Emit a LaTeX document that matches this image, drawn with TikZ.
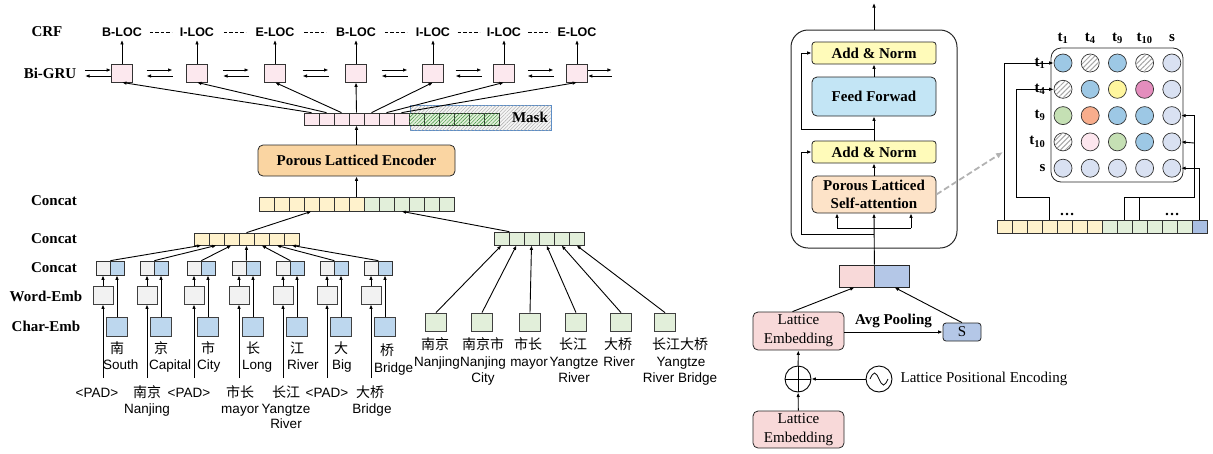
\documentclass[tikz,border=0pt]{standalone}
\usepackage{fontspec}
\setmainfont{Liberation Serif}
\newfontfamily\arialfont{Liberation Sans}
\newfontfamily\cjk{Noto Sans CJK SC}
\usetikzlibrary{calc,positioning,patterns.meta,arrows.meta}
\definecolor{pinkc}{HTML}{FCE8EE}
\definecolor{yelc}{HTML}{FFF2CC}
\definecolor{grnc}{HTML}{E2EFDA}
\definecolor{grayc}{HTML}{F2F2F2}
\definecolor{bluec}{HTML}{BDD7EE}
\definecolor{encc}{HTML}{FAD5A2}
\definecolor{anc}{HTML}{FFFBBA}
\definecolor{ffc}{HTML}{C3E5F5}
\definecolor{plac}{HTML}{FDE3C8}
\definecolor{lec}{HTML}{F8D9D9}
\definecolor{sc}{HTML}{B4C7E7}
\definecolor{seqblue}{HTML}{A9BFE3}
\definecolor{maskblue}{HTML}{5B8DC7}
\definecolor{mblu}{HTML}{9DC8E5}
\definecolor{myel}{HTML}{FFF69E}
\definecolor{mmag}{HTML}{E48DBD}
\definecolor{mgrn}{HTML}{C5E0B4}
\definecolor{msal}{HTML}{F8AD8C}
\definecolor{mpnk}{HTML}{FDE6EE}
\definecolor{mlav}{HTML}{D9E1F2}
\definecolor{mhat}{HTML}{FFFFFF}

\begin{document}
\begin{tikzpicture}[x=1pt, y=-1pt,
    arr/.style={-{Latex[length=4.5pt,width=3.6pt]}, line width=0.9pt},
    lab/.style={font=\bfseries\fontsize{15}{17}\selectfont},
    tag/.style={font=\arialfont\bfseries\fontsize{12.5}{14}\selectfont},
    en/.style={font=\arialfont\fontsize{13.5}{15}\selectfont, inner sep=0pt, anchor=base},
    zh/.style={font=\cjk\fontsize{14}{16}\selectfont, inner sep=0pt, anchor=base},
    cell/.style={draw=black!80, line width=0.7pt, minimum width=15pt, minimum height=13pt, inner sep=0pt},
    gru/.style={draw=black!80, line width=0.8pt, fill=pinkc, minimum width=21pt, minimum height=18pt, inner sep=0pt},
    emb/.style={draw=black!75, line width=0.8pt, minimum width=20pt, minimum height=18pt, inner sep=0pt},
    box/.style={draw=black!85, line width=0.8pt, inner sep=0pt},
    dot/.style={circle, draw=black!80, line width=0.7pt, minimum size=18pt, inner sep=0pt},
    dashln/.style={line width=1pt, dash pattern=on 3.5pt off 2pt},
    zoomln/.style={-{Latex[length=7pt,width=6pt]}, draw=gray!60, line width=1.8pt, dash pattern=on 6pt off 3pt}]
\useasboundingbox (0,0) rectangle (1213,453);

% row labels
\node[lab] (lcrf) at (47,32) {CRF};
\node[lab] (lgru) at (50,73) {Bi-GRU};
\node[lab] (lcat1) at (54,201) {Concat};
\node[lab] (lcat2) at (54,239) {Concat};
\node[lab] (lcat3) at (54,268) {Concat};
\node[lab] (lword) at (46,296) {Word-Emb};
\node[lab] (lchar) at (46,326) {Char-Emb};

% CRF tags and Bi-GRU
\foreach \x/\t [count=\i] in {122/B-LOC,197/I-LOC,275/E-LOC,356/B-LOC,433/I-LOC,504/I-LOC,577/E-LOC}{
  \node[tag] (tag\i) at (\x,32) {\t};
  \node[gru] (gru\i) at (\x,73) {};
  \draw[arr] (gru\i) -- (tag\i);
}
\foreach \i/\j in {1/2,2/3,3/4,4/5,5/6,6/7}{
  \draw[dashln] ($(tag\i.east)!.5!(tag\j.west)$) ++(-11,0) -- ++(22,0);
  \coordinate (h\i) at ($(gru\i.east)!.5!(gru\j.west)$);
  \draw[arr] ([shift={(-13,-3)}]h\i) -- ++(26,0);
  \draw[arr] ([shift={(13,3)}]h\i) -- ++(-26,0);
}
\draw[arr] ([shift={(-26,-3)}]gru1.west) -- ([shift={(0,-3)}]gru1.west);
\draw[arr] ([shift={(0,3)}]gru1.west) -- ([shift={(-26,3)}]gru1.west);
\draw[arr] ([shift={(0,-3)}]gru7.east) -- ++(24,0);
\draw[arr] ([shift={(24,3)}]gru7.east) -- ([shift={(0,3)}]gru7.east);

% masked sequence
\node[draw=maskblue, line width=0.8pt, fill=gray!8, postaction={pattern={Lines[angle=45,distance=2.5pt,line width=0.4pt]}, pattern color=gray!70}, minimum width=141pt, minimum height=25pt, inner sep=0pt] (mask) at (480.5,117.5) {};
\node[lab] (masktxt) at (530,117) {Mask};
\foreach \i in {1,...,7}
  \node[cell, minimum height=12pt, fill=pinkc] (m\i) at (296.5+15*\i,119) {};
\foreach \i in {8,...,13}
  \node[cell, minimum height=12pt, fill=grnc, postaction={pattern={Lines[angle=45,distance=2.5pt,line width=0.45pt]}, pattern color=green!45!black!80}] (m\i) at (296.5+15*\i,119) {};
\foreach \i in {1,...,7}
  \draw[arr] (m\i.north) -- (gru\i.south);

% encoder
\node[box, fill=encc, rounded corners=5pt, minimum width=197pt, minimum height=31pt, lab] (enc) at (356.5,160.5) {Porous Latticed Encoder};
\draw[arr] (enc.north) -- (m4.south);

% concat rows
\foreach \i in {1,...,7}
  \node[cell, minimum height=14pt, fill=yelc] (c\i) at (251.5+15*\i,204) {};
\foreach \i in {8,...,13}
  \node[cell, minimum height=14pt, fill=grnc] (c\i) at (251.5+15*\i,204) {};
\draw[arr] (c7.north) -- (enc.south);
\foreach \i in {1,...,7}
  \node[cell, minimum height=12pt, fill=yelc] (d\i) at (186.5+15*\i,239) {};
\draw[arr] (d4.north) -- (c4.south);
\foreach \i in {1,...,6}
  \node[cell, minimum height=13pt, fill=grnc] (g\i) at (486.5+15*\i,238.5) {};
\draw[arr] (g1.north east) -- (c10.south);

% char and word embeddings
\foreach \g [count=\i] in {103,147,194,239,283,327,371}{
  \node[cell, minimum width=14pt, minimum height=14pt, fill=grayc] (pg\i) at (\g,268) {};
  \node[cell, minimum width=14pt, minimum height=14pt, fill=bluec] (pb\i) at (\g+14,268) {};
  \node[emb, fill=grayc] (we\i) at (\g,295) {};
  \node[emb, fill=bluec, minimum width=21pt, minimum height=19pt] (ce\i) at (\g+14,326.5) {};
  \coordinate (wi\i) at (\g,378);
  \draw[arr] (we\i) -- (pg\i);
  \draw[arr] (ce\i) -- (pb\i);
  \draw[arr] (wi\i) -- (we\i);
  \draw[arr] (pg\i.north east) -- (d\i.south);
}
\foreach \x/\t [count=\i] in {117/南,161/京,208/市,253/长,297/江,341/大}
  \node[zh] (cz\i) at (\x,353.5) {\t};
\node[zh] (cz7) at (387,355.5) {桥};
\foreach \x/\t [count=\i] in {103/South,149/Capital,197/City,242/Long,287/River,332/Big}
  \node[en, anchor=base west] (ct\i) at (\x,369.5) {\t};
\node[en, anchor=base west] (ct7) at (374,372.5) {Bridge};
\foreach \x [count=\i] in {97,189,327}
  \node[en] (pad\i) at (\x,397) {<PAD>};
\foreach \x/\t [count=\i] in {147/南京,240/市长,286/长江,370/大桥}
  \node[zh] (wz\i) at (\x,397) {\t};
\foreach \x/\t [count=\i] in {147/Nanjing,240/mayor,286/Yangtze,372/Bridge}
  \node[en] (wt\i) at (\x,413.5) {\t};
\node[en] (wr) at (286,428.5) {River};

% lexicon words
\foreach \x [count=\i] in {436,482,530,576,621,665}{
  \node[emb, fill=grnc, minimum width=21pt] (w\i) at (\x,322) {};
  \draw[arr] (w\i.north) -- (g\i.south);
}
\foreach \x/\t [count=\i] in {435/南京,483/南京市,528/市长,573/长江,618/大桥,680/长江大桥}
  \node[zh] (gz\i) at (\x,349.5) {\t};
\foreach \x/\t [count=\i] in {437/Nanjing,483/Nanjing,529/mayor,574/Yangtze,619/River,681/Yangtze}
  \node[en] (ge\i) at (\x,366.5) {\t};
\foreach \x/\t [count=\i] in {483/City,574/River,680/River Bridge}
  \node[en] (gf\i) at (\x,382.5) {\t};

% encoder block
\node[box, line width=1pt, rounded corners=17pt, minimum width=166pt, minimum height=218pt] (blk) at (874,139) {};
\coordinate (out) at (874,3);
\draw[arr] (blk.north) -- (out);
\node[box, fill=anc, rounded corners=3pt, minimum width=124pt, minimum height=22pt, lab] (an1) at (874,53) {Add \& Norm};
\node[box, fill=ffc, rounded corners=5pt, minimum width=124pt, minimum height=39pt, lab] (ff) at (874,96.5) {Feed Forwad};
\node[box, fill=anc, rounded corners=3pt, minimum width=124pt, minimum height=22pt, lab] (an2) at (874,152) {Add \& Norm};
\node[box, fill=plac, rounded corners=5pt, minimum width=124pt, minimum height=37pt, align=center, font=\bfseries\fontsize{15}{18}\selectfont] (pla) at (874,194.5) {Porous Latticed\\Self-attention};
\draw[arr] (ff) -- (an1);
\draw[arr] (an2) -- (ff);
\draw[arr] (pla) -- (an2);
\coordinate (r1) at (874,234);
\coordinate (r2) at (874,129);
\coordinate (br) at (874,228);
\draw[arr] (r1) -- (801,234) |- (an2.west);
\draw[arr] (r2) -- (801,129) |- (an1.west);
\draw[line width=0.9pt] ([xshift=-37pt]br) -- ([xshift=37pt]br);
\draw[arr] ([xshift=-37pt]br) -- ([xshift=-37pt]pla.south);
\draw[arr] ([xshift=37pt]br) -- ([xshift=37pt]pla.south);

% lattice input
\node[box, fill=lec, minimum width=35pt, minimum height=22pt] (lp) at (856.5,276) {};
\node[box, fill=sc, minimum width=35pt, minimum height=22pt] (lb) at (891.5,276) {};
\draw[arr] (lp.north east) -- (pla.south);
\node[box, fill=lec, rounded corners=5pt, minimum width=91pt, minimum height=38pt, align=center, font=\fontsize{15}{19}\selectfont] (le1) at (798.5,331) {Lattice\\Embedding};
\node[box, fill=sc, rounded corners=3pt, minimum width=38pt, minimum height=18pt, font=\fontsize{15}{17}\selectfont] (sbox) at (962,332) {S};
\draw[arr] ([xshift=-6pt]le1.north) -- ([xshift=-2pt]lp.south);
\draw[arr] (sbox.north) -- ([xshift=3pt]lb.south);
\draw[arr] (le1.east |- sbox.west) -- node[lab, above=0pt] (avg) {Avg Pooling} (sbox.west);
\node[circle, draw, line width=0.9pt, minimum size=26pt, inner sep=0pt] (plus) at (798,379) {};
\draw[line width=0.9pt] (plus.north) -- (plus.south) (plus.west) -- (plus.east);
\node[circle, draw, line width=0.9pt, minimum size=26pt, inner sep=0pt] (sine) at (879,379) {};
\draw[line width=0.8pt] ([xshift=-9pt]sine.center) sin ++(4.5,-6) cos ++(4.5,6) sin ++(4.5,6) cos ++(4.5,-6);
\node[anchor=west, inner sep=0pt, font=\fontsize{15}{17}\selectfont] (lpe) at ([xshift=8pt]sine.east) {Lattice Positional Encoding};
\node[box, fill=lec, rounded corners=5pt, minimum width=91pt, minimum height=37pt, align=center, font=\fontsize{15}{19}\selectfont] (le2) at (798.5,429.5) {Lattice\\Embedding};
\draw[arr] (le2) -- (plus);
\draw[arr] (plus) -- (le1);
\draw[arr] (sine) -- (plus);

% attention matrix
\coordinate (ztip) at (1003,152);
\draw[zoomln] (pla.east) -- (ztip);
\node[box, rounded corners=10pt, minimum width=132pt, minimum height=134pt] (mat) at (1117,115) {};
\foreach \row [count=\i] in {{mblu,mhat,mblu,mhat,mlav},{mhat,mblu,myel,mmag,mlav},{mgrn,msal,mblu,mblu,mlav},{mhat,mpnk,mgrn,mblu,mlav},{mlav,mlav,mlav,mlav,mlav}}{
  \foreach \f [count=\j] in \row
    \node[dot, fill=\f] (q\i\j) at ({1035.8+27.2*\j},{36.7+26.3*\i}) {};
}
\foreach \i/\j in {1/2,1/4,2/1,4/1}
  \path[pattern={Lines[angle=45,distance=3.5pt,line width=1pt]}, pattern color=gray!70] (q\i\j.center) circle (8.5pt);
\foreach \s [count=\i] in {1,4,9,10}{
  \node[lab] (cl\i) at ({1035.8+27.2*\i},38) {t\textsubscript{\s}};
  \node[lab, anchor=east] (rl\i) at (1049,{36.7+26.3*\i}) {t\textsubscript{\s}};
}
\node[lab] (cl5) at (1172,38) {s};
\node[lab, anchor=east] (rl5) at (1049,168.2) {s};

% token sequence
\foreach \k in {0,...,6}
  \node[cell] (sq\k) [fill=yelc] at (1004.5+15*\k,226.5) {};
\foreach \k in {7,...,12}
  \node[cell] (sq\k) [fill=grnc] at (1004.5+15*\k,226.5) {};
\node[cell, fill=seqblue] (sq13) at (1199.5,226.5) {};
\node[lab] (dt1) at (1067,214) {\dots};
\node[lab] (dt2) at (1172,214) {\dots};
\draw[arr] (sq0.north) |- (q11.west);
\draw[arr] (sq3.north) |- (1016,197) |- (q21.west);
\draw[arr] (sq8.north) |- (1194,197) |- (q35.east);
\draw[arr] (1194,143) -- (q45.east);
\draw[line width=0.9pt] (sq9.north) -- ++(0,-23);
\draw[arr] (sq13.north) |- (q55.east);
\end{tikzpicture}
\end{document}
